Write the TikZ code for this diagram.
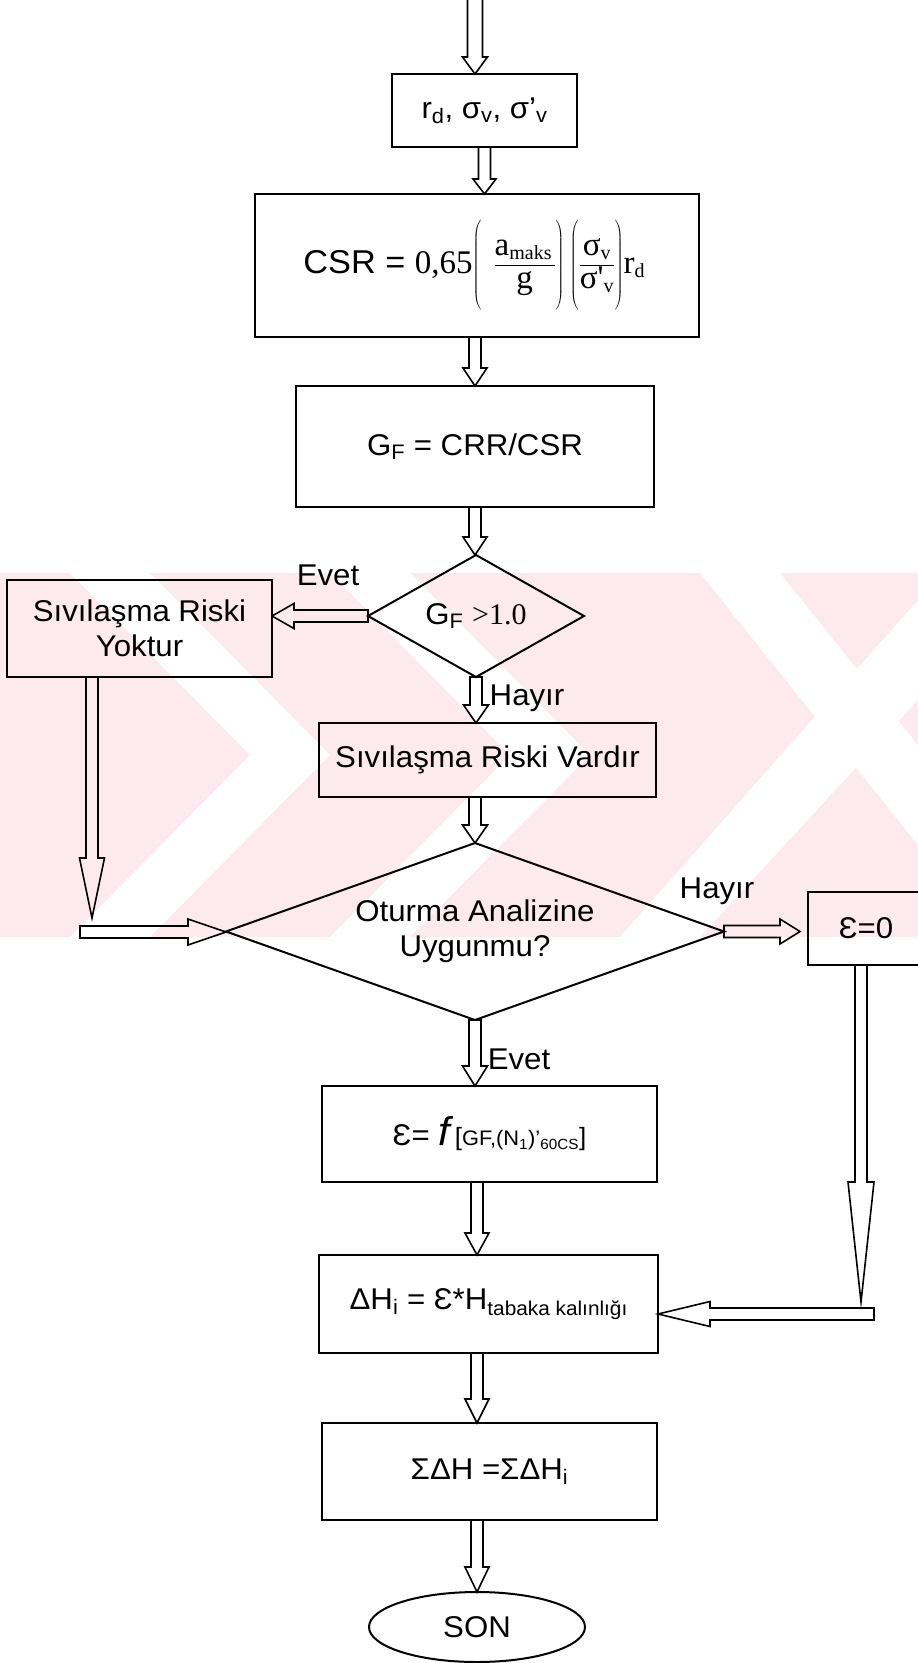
\RequirePackage{fix-cm}
\documentclass[tikz,border=0pt]{standalone}
\usepackage{fontspec}
\setmainfont[FakeStretch=1.04]{Liberation Sans}
\newfontfamily\tms{Liberation Serif}
\usetikzlibrary{shapes.geometric,calc}

\definecolor{wmpink}{RGB}{253,234,238}
\newcommand{\bodyfont}{\fontsize{30}{35}\selectfont}
\newcommand{\subT}[1]{\raisebox{-0.12em}{\fontsize{20}{22}\selectfont\tms #1}}

% hollow block arrows: start, end, shaft half-width, head half-width, head length
\newcommand{\blkdown}[5]{%
  \draw[blockarrow] let \p1=(#1), \p2=(#2) in
    (\x1-#3pt,\y1) -- (\x1-#3pt,\y2+#5pt) -- (\x1-#4pt,\y2+#5pt) -- (\x1,\y2)
    -- (\x1+#4pt,\y2+#5pt) -- (\x1+#3pt,\y2+#5pt) -- (\x1+#3pt,\y1) -- cycle;}
\newcommand{\blkleft}[5]{%
  \draw[blockarrow] let \p1=(#1), \p2=(#2) in
    (\x1,\y1+#3pt) -- (\x2+#5pt,\y1+#3pt) -- (\x2+#5pt,\y1+#4pt) -- (\x2,\y1)
    -- (\x2+#5pt,\y1-#4pt) -- (\x2+#5pt,\y1-#3pt) -- (\x1,\y1-#3pt) -- cycle;}
\newcommand{\blkright}[5]{%
  \draw[blockarrow] let \p1=(#1), \p2=(#2) in
    (\x1,\y1+#3pt) -- (\x2-#5pt,\y1+#3pt) -- (\x2-#5pt,\y1+#4pt) -- (\x2,\y1)
    -- (\x2-#5pt,\y1-#4pt) -- (\x2-#5pt,\y1-#3pt) -- (\x1,\y1-#3pt) -- cycle;}

% tall parentheses around a fraction: left gap, numerator, denominator
\newcommand{\parfrac}[3]{\left(\vrule height 54pt depth 38pt width 0pt\hspace{#1}%
  \textstyle\frac{\hbox{\tms\vrule depth 9pt width 0pt #2}}%
                 {\hbox{\tms\vrule height 23pt width 0pt #3}}\right)}

\tikzset{
  box/.style={draw, line width=2pt, rectangle, inner sep=0pt, outer sep=0pt,
              align=center, font=\bodyfont},
  decision/.style={draw, line width=2pt, diamond, inner sep=0pt, outer sep=0pt,
              align=center, font=\bodyfont},
  terminal/.style={draw, line width=2pt, ellipse, inner sep=0pt, outer sep=0pt,
              font=\bodyfont},
  blockarrow/.style={draw, line width=1.6pt, line join=miter},
  lbl/.style={inner sep=0pt, anchor=base, font=\bodyfont},
}

\begin{document}
\begin{tikzpicture}[x=1pt,y=-1pt]
\useasboundingbox (0,0) rectangle (918,1663);

% background band
\fill[wmpink] (0,573) rectangle (918,937);
\fill[white] (70,573) -- (150,573) -- (330,755) -- (150,937) -- (70,937) -- (250,755) -- cycle;
\fill[white] (330,573) -- (410,573) -- (590,755) -- (410,937) -- (330,937) -- (510,755) -- cycle;
\fill[white] (700,573) -- (780,573) -- (918,745) -- (918,845) -- cycle;
\fill[white] (918,600) -- (918,700) -- (700,937) -- (620,937) -- cycle;

% process steps
\node[box, minimum width=185pt, minimum height=73pt] (b1) at (484.5,110.5)
  {r\textsubscript{d}, σ\textsubscript{v}, σ’\textsubscript{v}};
\node[box, minimum width=444pt, minimum height=143pt, font=\fontsize{33}{38}\selectfont] (b2) at (477,265.5)
  {CSR = {\tms 0,65}$\parfrac{12pt}{a\subT{maks}\hspace{3pt}}{g}\parfrac{0pt}{σ\subT{v}}{σ'\subT{v}}$\hbox{\tms r\subT{d}}\hspace{6pt}};
\node[box, minimum width=358pt, minimum height=121pt] (b3) at (475,446.5)
  {G\textsubscript{F} = CRR/CSR};
\node[decision, minimum width=216pt, minimum height=122pt, aspect=1.77] (d1) at (476,616)
  {G\textsubscript{F} {\tms >1.0}};
\node[box, minimum width=265pt, minimum height=97pt] (yok) at (139.5,628.5)
  {Sıvılaşma Riski\\Yoktur};
\node[box, minimum width=337pt, minimum height=74pt] (var) at (487.5,760)
  {Sıvılaşma Riski Vardır};
\node[decision, minimum width=498pt, minimum height=177pt, aspect=2.81] (d2) at (475,931.5)
  {Oturma Analizine\\Uygunmu?};
\node[box, minimum width=116pt, minimum height=73pt] (eps0) at (866,928.5) {Ɛ=0};
\node[box, minimum width=335pt, minimum height=96pt] (e1) at (489.5,1134)
  {Ɛ= {\fontsize{40}{40}\selectfont\itshape f}\,{\fontsize{25}{28}\selectfont[}%
   {\fontsize{21}{24}\selectfont GF,(N\textsubscript{1})’\textsubscript{60CS}}%
   {\fontsize{25}{28}\selectfont]}};
\node[box, minimum width=339pt, minimum height=98pt] (dh) at (488.5,1304)
  {ΔH\textsubscript{i} = Ɛ*H\raisebox{-0.2em}{\fontsize{20}{22}\selectfont tabaka kalınlığı}};
\node[box, minimum width=335pt, minimum height=97pt] (sum) at (489.5,1471.5)
  {ΣΔH =ΣΔH\textsubscript{i}};
\node[terminal, minimum width=216pt, minimum height=70pt] (son) at (477,1627) {SON};

% branch labels
\node[lbl] (evet1) at (328,585) {Evet};
\node[lbl] (hayir1) at (527,705) {Hayır};
\node[lbl] (hayir2) at (717,898) {Hayır};
\node[lbl] (evet2) at (519,1069) {Evet};

% free ends of the side connectors
\coordinate (in0) at (475,-6);
\coordinate (lturn) at (92,918);
\coordinate (lstart) at (80,932);
\coordinate (rturn) at (861,1302);
\coordinate (rstart) at (874,1314);

% main flow
\blkdown{in0}{b1.north}{7.5}{12.5}{17}
\blkdown{b1.south}{b2.north}{6}{11.5}{15}
\blkdown{b3.north |- b2.south}{b3.north}{6}{12}{18}
\blkdown{b3.south}{d1.north}{6}{12}{18}
\blkdown{d1.south}{var.north}{6}{12.5}{18}
\blkdown{d2.north |- var.south}{d2.north}{6}{12.5}{18}
\blkdown{d2.south}{e1.north}{6}{12.5}{20}
\blkdown{son.north |- e1.south}{son.north |- dh.north}{6}{12}{22}
\blkdown{son.north |- dh.south}{son.north |- sum.north}{6}{12}{24}
\blkdown{son.north |- sum.south}{son.north}{6}{12}{25}

% decision branches
\blkleft{d1.west}{yok.east}{6}{12.5}{22}
\blkright{d2.east}{$(eps0.west)+(-8,0)$}{6}{12.5}{20}

% side routes
\blkdown{yok.south -| lturn}{lturn}{6}{12.5}{60}
\blkright{lstart}{d2.west}{6}{13}{38}
\blkdown{eps0.south -| rturn}{rturn}{6}{13}{120}
\blkleft{rstart}{dh.east}{6}{12.5}{52}
\end{tikzpicture}
\end{document}
